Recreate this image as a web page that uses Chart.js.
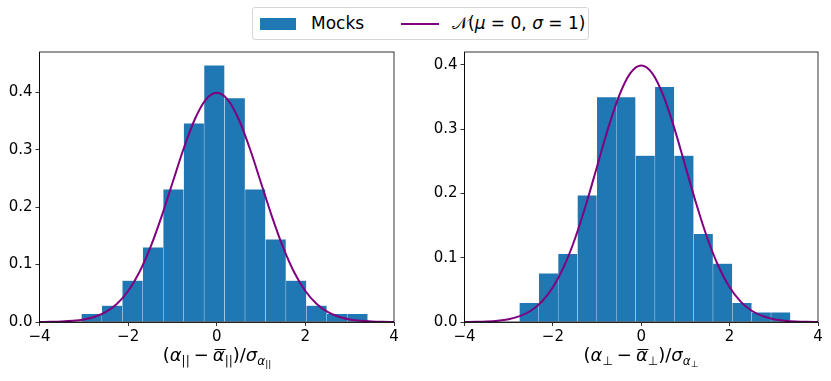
<!DOCTYPE html>
<html>
<head>
<meta charset="utf-8">
<script src="https://cdn.jsdelivr.net/npm/chart.js@4/dist/chart.umd.min.js"></script>
<style>
  body { margin: 0; width: 831px; height: 381px; background: #fff; position: relative; overflow: hidden; font-family: "DejaVu Sans", sans-serif; color: #000; }
  canvas { position: absolute; }
  #legend { position: absolute; left: 252px; top: 7px; width: 335px; height: 31px; border: 1px solid #d6d6d6; border-radius: 3px; }
  #legend .swatch { position: absolute; left: 7px; top: 10px; width: 36px; height: 12px; background: #1f77b4; }
  #legend .line { position: absolute; left: 148px; top: 15px; width: 38px; height: 2px; background: #800080; }
  #legend .lbl { position: absolute; top: 5px; font-size: 17px; white-space: nowrap; }
  .xtitle { position: absolute; top: 344px; font-size: 18px; line-height: 22px; white-space: nowrap; transform: translateX(-50%); }
  .xtitle i { font-style: italic; }
  .xtitle sub { font-size: 12px; vertical-align: -4px; }
  .xtitle sub sub { font-size: 9px; vertical-align: -2px; }
  .xtitle .op { margin: 0 4px; }
  .bar { position: relative; display: inline-block; }
  .bar::before { content: ''; position: absolute; left: 2px; right: -1px; top: 5px; border-top: 1.2px solid #000; }
</style>
</head>
<body>
<div id="legend">
  <span class="swatch"></span><span class="lbl" style="left:58px">Mocks</span>
  <span class="line"></span><span class="lbl" style="left:199px">𝒩(<i>μ</i> = 0, <i>σ</i> = 1)</span>
</div>
<canvas id="left" width="410" height="305" style="left:0;top:40px"></canvas>
<canvas id="right" width="406" height="305" style="left:425px;top:40px"></canvas>
<div class="xtitle" style="left:217px">(<i>α</i><sub>||</sub><span class="op">−</span><i class="bar">α</i><sub>||</sub>)/<i>σ</i><sub><i>α</i><sub>||</sub></sub></div>
<div class="xtitle" style="left:641px">(<i>α</i><sub>⊥</sub><span class="op">−</span><i class="bar">α</i><sub>⊥</sub>)/<i>σ</i><sub><i>α</i><sub>⊥</sub></sub></div>
<script>
// histogram bin centres and densities
const parCenters = [-2.823, -2.362, -1.900, -1.439, -0.977, -0.516, -0.055, 0.407, 0.868, 1.330, 1.791, 2.252, 2.714, 3.175];
const parDensity = [0.0142, 0.0284, 0.072, 0.130, 0.231, 0.346, 0.447, 0.390, 0.231, 0.144, 0.072, 0.0284, 0.0142, 0.0142];

const perpCenters = [-2.538, -2.100, -1.662, -1.224, -0.786, -0.348, 0.090, 0.528, 0.966, 1.404, 1.842, 2.280, 2.718, 3.156];
const perpDensity = [0.0299, 0.0759, 0.106, 0.197, 0.350, 0.350, 0.259, 0.366, 0.259, 0.137, 0.091, 0.0299, 0.0152, 0.0152];

// standard normal pdf sampled every 0.25
const gaussX = [-4, -3.75, -3.5, -3.25, -3, -2.75, -2.5, -2.25, -2, -1.75, -1.5, -1.25, -1, -0.75, -0.5, -0.25, 0,
                0.25, 0.5, 0.75, 1, 1.25, 1.5, 1.75, 2, 2.25, 2.5, 2.75, 3, 3.25, 3.5, 3.75, 4];
const gaussY = [0.00013, 0.00035, 0.00087, 0.00203, 0.00443, 0.00909, 0.01753, 0.03174, 0.05399, 0.08628, 0.12952, 0.18265, 0.24197, 0.30114, 0.35207, 0.38667, 0.39894,
                0.38667, 0.35207, 0.30114, 0.24197, 0.18265, 0.12952, 0.08628, 0.05399, 0.03174, 0.01753, 0.00909, 0.00443, 0.00203, 0.00087, 0.00035, 0.00013];

const xTicks = [-4, -2, 0, 2, 4];
const parYTicks = [0, 0.1, 0.2, 0.3, 0.4];
const perpYTicks = [0, 0.1, 0.2, 0.3, 0.4];

const frame = {
    id: 'frame',
    afterDraw(chart) {
        const a = chart.chartArea, ctx = chart.ctx;
        ctx.save();
        ctx.strokeStyle = '#000';
        ctx.lineWidth = 0.8;
        ctx.strokeRect(a.left, a.top, a.right - a.left, a.bottom - a.top);
        ctx.restore();
    }
};

function makeChart(id, centers, density, yMax, yTicks, padRight) {
    const tickFont = { family: 'DejaVu Sans', size: 15 };
    return new Chart(document.getElementById(id), {
        type: 'bar',
        data: {
            datasets: [
                {
                    type: 'line',
                    data: gaussX.map((x, i) => ({ x: x, y: gaussY[i] })),
                    borderColor: '#800080',
                    borderWidth: 2,
                    pointRadius: 0,
                    cubicInterpolationMode: 'monotone',
                    order: 0
                },
                {
                    type: 'bar',
                    data: centers.map((x, i) => ({ x: x, y: density[i] })),
                    backgroundColor: '#1f77b4',
                    borderColor: 'rgba(255,255,255,0.18)',
                    borderWidth: 0.5,
                    barPercentage: 1,
                    categoryPercentage: 1,
                    order: 1
                }
            ]
        },
        options: {
            responsive: false,
            animation: false,
            devicePixelRatio: 1,
            layout: { padding: { left: 0, top: 6, right: padRight, bottom: 0 } },
            plugins: { legend: { display: false }, tooltip: { enabled: false } },
            scales: {
                x: {
                    type: 'linear', min: -4, max: 4, offset: false,
                    afterBuildTicks: s => { s.ticks = xTicks.map(v => ({ value: v })); },
                    afterFit: s => { s.height = 23; },
                    grid: { offset: false, drawOnChartArea: false, drawTicks: true, tickLength: 4, color: '#000', lineWidth: 0.8 },
                    border: { color: '#000', width: 0.8 },
                    ticks: { font: tickFont, color: '#000', padding: 2, maxRotation: 0,
                             callback: v => String(v).replace('-', '\u2212') }
                },
                y: {
                    min: 0, max: yMax,
                    afterBuildTicks: s => { s.ticks = yTicks.map(v => ({ value: v })); },
                    afterFit: s => { s.width = 39.5; },
                    grid: { drawOnChartArea: false, drawTicks: true, tickLength: 4, color: '#000', lineWidth: 0.8 },
                    border: { color: '#000', width: 0.8 },
                    ticks: { font: tickFont, color: '#000', padding: 3, callback: v => v.toFixed(1) }
                }
            }
        },
        plugins: [frame]
    });
}

makeChart('left', parCenters, parDensity, 0.47, parYTicks, 16);
makeChart('right', perpCenters, perpDensity, 0.42, perpYTicks, 13);
</script>
</body>
</html>
